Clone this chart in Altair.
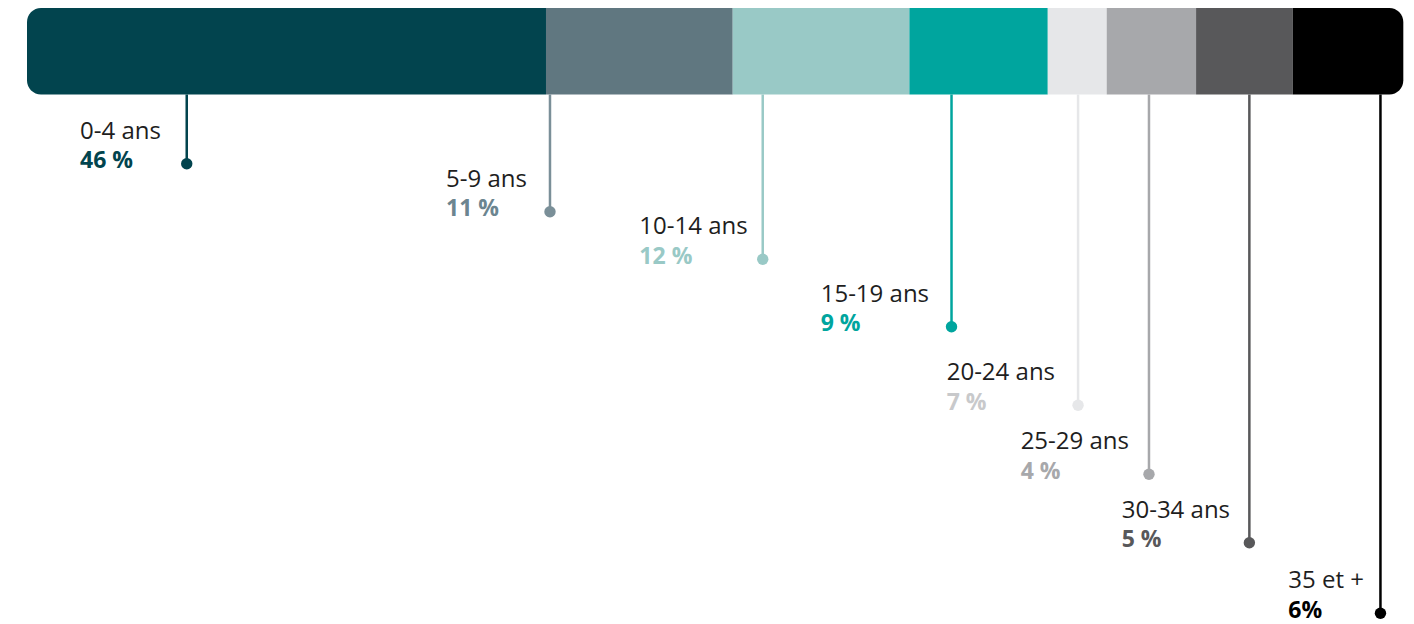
import altair as alt
import pandas as pd

# Data
groups = ["0-4 ans", "5-9 ans", "10-14 ans", "15-19 ans", "20-24 ans", "25-29 ans", "30-34 ans", "35 et +"]
pct_labels = ["46 %", "11 %", "12 %", "9 %", "7 %", "4 %", "5 %", "6%"]
# drawn segment widths (share of bar length, %)
seg_share = [37.69, 13.56, 12.83, 10.05, 4.28, 6.49, 7.02, 8.03]
# leader line position along bar (% of bar length)
leader_pos = [11.60, 37.98, 53.43, 67.14, 76.33, 81.48, 88.77, 98.29]
# leader line depth below bar top (px units of the y scale)
leader_depth = [155.7, 203.7, 251.3, 318.7, 397.3, 466.3, 534.7, 605.3]
# label start (% of bar length)
label_pos = [3.85, 30.43, 44.47, 57.64, 66.79, 72.16, 79.50, 91.60]

bar_colors = ["#02444e", "#607780", "#99c9c6", "#00a59e", "#e6e7e9", "#a7a8ab", "#58585a", "#000000"]
line_colors = ["#02444e", "#7a8f98", "#99c9c6", "#00a59e", "#e6e7e9", "#a7a8ab", "#58585a", "#000000"]
pct_colors = ["#02444e", "#6c8590", "#99c9c6", "#00a59e", "#c8c9cb", "#a7a8ab", "#58585a", "#000000"]

BAR_DEPTH = 86.5

starts = []
acc = 0.0
for s in seg_share:
    starts.append(acc)
    acc += s

df = pd.DataFrame({
    "group": groups,
    "order": list(range(len(groups))),
    "pct": pct_labels,
    "x0": starts,
    "x1": [a + b for a, b in zip(starts, seg_share)],
    "lx": leader_pos,
    "depth": leader_depth,
    "tx": label_pos,
    "bar_top": [0.0] * len(groups),
    "bar_bot": [BAR_DEPTH] * len(groups),
    "bar_color": bar_colors,
    "line_color": line_colors,
    "pct_color": pct_colors,
})

xs = alt.Scale(domain=[0, 100], nice=False, zero=False)
ys = alt.Scale(domain=[1, 609], reverse=True, nice=False, zero=False)

base = alt.Chart(df)

def seg(**kw):
    return base.mark_bar(**kw).encode(
        x=alt.X("x0:Q", scale=xs, axis=None),
        x2="x1:Q",
        y=alt.Y("bar_top:Q", scale=ys, axis=None),
        y2="bar_bot:Q",
        color=alt.Color("bar_color:N", scale=None),
    )

mid = seg().transform_filter("datum.order > 0 && datum.order < 7")
first = seg(cornerRadiusTopLeft=14, cornerRadiusBottomLeft=14).transform_filter("datum.order == 0")
last = seg(cornerRadiusTopRight=14, cornerRadiusBottomRight=14).transform_filter("datum.order == 7")

lines = base.mark_rule(strokeWidth=2.5).encode(
    x=alt.X("lx:Q", scale=xs),
    y=alt.Y("bar_bot:Q", scale=ys),
    y2="depth:Q",
    color=alt.Color("line_color:N", scale=None),
)

dots = base.mark_circle(size=130, opacity=1).encode(
    x=alt.X("lx:Q", scale=xs),
    y=alt.Y("depth:Q", scale=ys),
    color=alt.Color("line_color:N", scale=None),
)

age_text = base.mark_text(
    align="left", baseline="middle", font="Open Sans", fontSize=24, dy=-32, color="#1e1e1e"
).encode(
    x=alt.X("tx:Q", scale=xs),
    y=alt.Y("depth:Q", scale=ys),
    text="group:N",
)

pct_text = base.mark_text(
    align="left", baseline="middle", font="Open Sans", fontSize=23, fontWeight="bold", dy=-2.5
).encode(
    x=alt.X("tx:Q", scale=xs),
    y=alt.Y("depth:Q", scale=ys),
    text="pct:N",
    color=alt.Color("pct_color:N", scale=None),
)

chart = alt.layer(first, mid, last, lines, dots, age_text, pct_text).properties(
    width=1377,
    height=608,
    padding={"left": 19, "top": 0, "right": 0, "bottom": 10},
    background="white",
).configure_view(stroke=None)

chart.save("out.html", embed_options={"renderer": "svg", "actions": False})
